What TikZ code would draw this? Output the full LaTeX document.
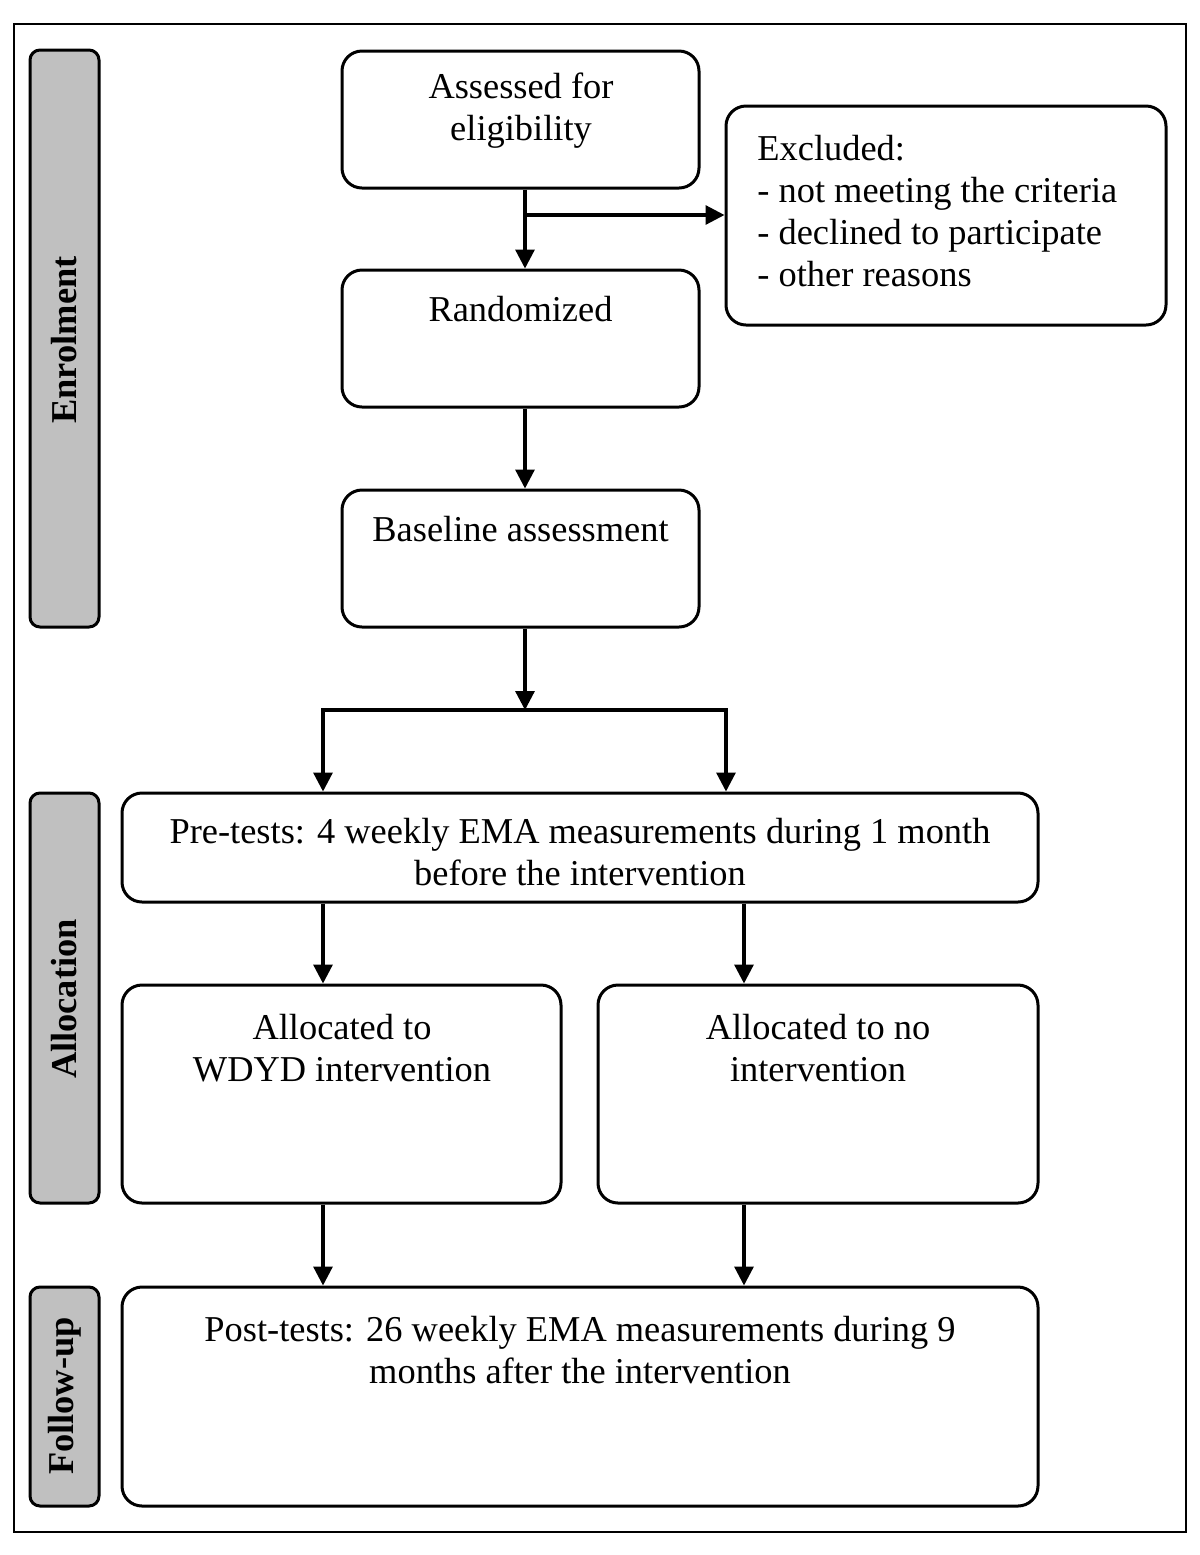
\documentclass[tikz,border=0pt]{standalone}
\usepackage{fontspec}
\setmainfont{Liberation Serif}
\usetikzlibrary{arrows.meta}
\begin{document}
\begin{tikzpicture}[x=0.5pt,y=-0.5pt,
  box/.style={draw, line width=1.5pt, rounded corners=10pt, inner sep=0pt},
  side/.style={draw, line width=1.5pt, rounded corners=5pt, fill=sidegray, inner sep=0pt, minimum width=34.5pt},
  txt/.style={font=\fontsize{18.2}{21}\selectfont, align=center, inner sep=0pt},
  sidetxt/.style={font=\fontsize{18.2}{21}\selectfont\bfseries, rotate=90, inner sep=0pt},
  conn/.style={line width=1.6pt},
  arr/.style={line width=1.6pt, -{Triangle[length=9.5pt,width=9.5pt]}}]
\definecolor{sidegray}{HTML}{C0C0C0}
\useasboundingbox (0,0) rectangle (1200,1555);
\node[draw, line width=1pt, minimum width=586pt, minimum height=754pt, inner sep=0pt] (frame) at (600,778) {};
% side bars
\node[side, minimum height=288.5pt] (enrol) at (64.5,338.5) {};
\node[sidetxt] (enroltxt) at (64.5,340) {Enrolment};
\node[side, minimum height=205pt] (alloc) at (64.5,998) {};
\node[sidetxt] (alloctxt) at (64.5,999) {Allocation};
\node[side, minimum height=109.5pt] (follow) at (64.5,1396.5) {};
\node[sidetxt] (followtxt) at (64.5,1396) {Follow-up};
% boxes
\node[box, minimum width=178.5pt, minimum height=68.5pt] (assess) at (520.5,119.5) {};
\node[txt] (assesstxt) at (521,111) {Assessed for\\eligibility};
\node[box, minimum width=220pt, minimum height=109.5pt] (excl) at (946,215.5) {};
\node[txt, align=left, anchor=west] (excltxt) at (757,211) {Excluded:\\- not meeting the criteria\\- declined to participate\\- other reasons};
\node[box, minimum width=178.5pt, minimum height=68.5pt] (rand) at (520.5,338.5) {};
\node[txt] (randtxt) at (520.5,309) {Randomized};
\node[box, minimum width=178.5pt, minimum height=68.5pt] (base) at (520.5,558.5) {};
\node[txt] (basetxt) at (520.5,529) {Baseline assessment};
\node[box, minimum width=458pt, minimum height=54.5pt] (pre) at (580,847.5) {};
\node[txt] (pretxt) at (580,852) {Pre-tests: 4 weekly EMA measurements during 1 month\\before the intervention};
\node[box, minimum width=219.5pt, minimum height=109pt] (wdyd) at (341.5,1094) {};
\node[txt] (wdydtxt) at (342,1048) {Allocated to\\WDYD intervention};
\node[box, minimum width=220pt, minimum height=109pt] (noint) at (818,1094) {};
\node[txt] (ninttxt) at (818,1048) {Allocated to no\\intervention};
\node[box, minimum width=458pt, minimum height=109.5pt] (post) at (580,1396.5) {};
\node[txt] (posttxt) at (580,1350) {Post-tests: 26 weekly EMA measurements during 9\\months after the intervention};
% connectors
\coordinate (j1) at (525,215);
\draw[arr] (assess.south -| j1) -- (rand.north -| j1);
\draw[arr] (j1) -- (excl.west |- j1);
\draw[arr] (rand.south -| j1) -- (base.north -| j1);
\coordinate (j2) at (525,710);
\coordinate (l) at (323,710);
\coordinate (r) at (726,710);
\draw[arr] (base.south -| j2) -- (j2);
\draw[conn] ([xshift=-0.8pt]l) -- ([xshift=0.8pt]r);
\draw[arr] (l) -- (pre.north -| l);
\draw[arr] (r) -- (pre.north -| r);
\coordinate (cl) at (323,0);
\coordinate (cr) at (744,0);
\draw[arr] (pre.south -| cl) -- (wdyd.north -| cl);
\draw[arr] (pre.south -| cr) -- (noint.north -| cr);
\draw[arr] (wdyd.south -| cl) -- (post.north -| cl);
\draw[arr] (noint.south -| cr) -- (post.north -| cr);
\end{tikzpicture}
\end{document}
